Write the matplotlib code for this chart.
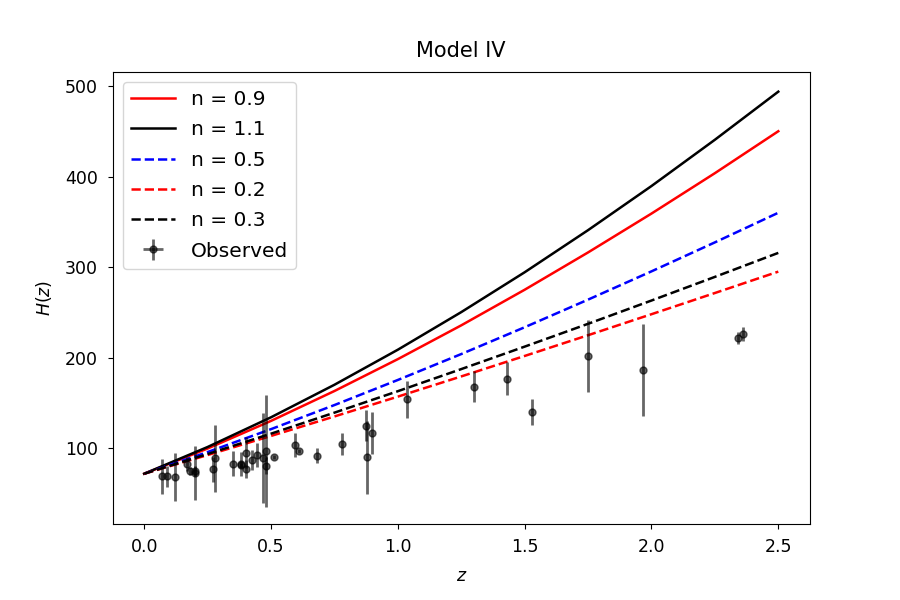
import matplotlib
matplotlib.use("Agg")
import matplotlib.pyplot as plt
import numpy as np

# Model curves
z_model = [0.0, 0.25, 0.5, 0.75, 1.0, 1.25, 1.5, 1.75, 2.0, 2.25, 2.5]
H_n09 = [72.0, 99.8, 130.3, 163.3, 198.5, 235.8, 275.1, 316.3, 359.2, 403.8, 450.1]
H_n11 = [72.0, 101.5, 134.3, 170.2, 208.9, 250.4, 294.4, 340.9, 389.6, 440.7, 493.8]
H_n05 = [72.0, 95.9, 121.2, 147.8, 175.5, 204.1, 233.7, 264.2, 295.4, 327.4, 360.1]
H_n02 = [72.0, 92.6, 113.7, 135.2, 157.1, 179.4, 202.0, 224.9, 248.1, 271.5, 295.1]
H_n03 = [72.0, 93.7, 116.2, 139.4, 163.1, 187.5, 212.3, 237.5, 263.2, 289.3, 315.8]

# Observed data
z_obs = [0.07, 0.09, 0.12, 0.17, 0.179, 0.199, 0.2, 0.27, 0.28, 0.352, 0.38, 0.3802,
         0.4, 0.4004, 0.4247, 0.445, 0.47, 0.4783, 0.48, 0.51, 0.593, 0.61, 0.68,
         0.781, 0.875, 0.88, 0.9, 1.037, 1.3, 1.43, 1.53, 1.75, 1.965, 2.34, 2.36]
H_obs = [69, 69, 68.6, 83, 75, 75, 72.9, 77, 88.8, 83, 81.5, 83,
         95, 77, 87.1, 92.8, 89, 80.9, 97, 90.4, 104, 97.3, 92,
         105, 125, 90, 117, 154, 168, 177, 140, 202, 186.5, 222, 226]
H_err = [19.6, 12, 26.2, 8, 4, 5, 29.6, 14, 36.6, 14, 1.9, 13.5,
         17, 10.2, 11.2, 12.9, 49.6, 9, 62, 1.9, 13, 2.1, 8,
         12, 17, 40, 23, 20, 17, 18, 14, 40, 50.4, 7, 8]
z_err = [0.0] * len(z_obs)

plt.rcParams['font.size'] = 12.5

fig = plt.figure(figsize=(9, 6), dpi=100)
ax = fig.add_axes([0.125, 0.127, 0.775, 0.753])

ax.plot(z_model, H_n09, color='red', lw=1.8, label='n = 0.9')
ax.plot(z_model, H_n11, color='black', lw=1.8, label='n = 1.1')
ax.plot(z_model, H_n05, color='blue', lw=1.8, ls='--', label='n = 0.5')
ax.plot(z_model, H_n02, color='red', lw=1.8, ls='--', label='n = 0.2')
ax.plot(z_model, H_n03, color='black', lw=1.8, ls='--', label='n = 0.3')
ax.errorbar(z_obs, H_obs, yerr=H_err, xerr=z_err, fmt='o', color='black',
            ms=5, elinewidth=2, alpha=0.6, label='Observed')

ax.set_ylim(16.7, 515.5)
ax.tick_params(axis='both', pad=7)
ax.set_xlabel('$z$', labelpad=8)
ax.set_ylabel('$H(z)$', labelpad=8)
ax.set_title('Model IV', fontsize=15, pad=11)
ax.legend(loc='upper left', handlelength=2.2, fontsize=14.5, labelspacing=0.56)

fig.savefig('out.png', dpi=100)
